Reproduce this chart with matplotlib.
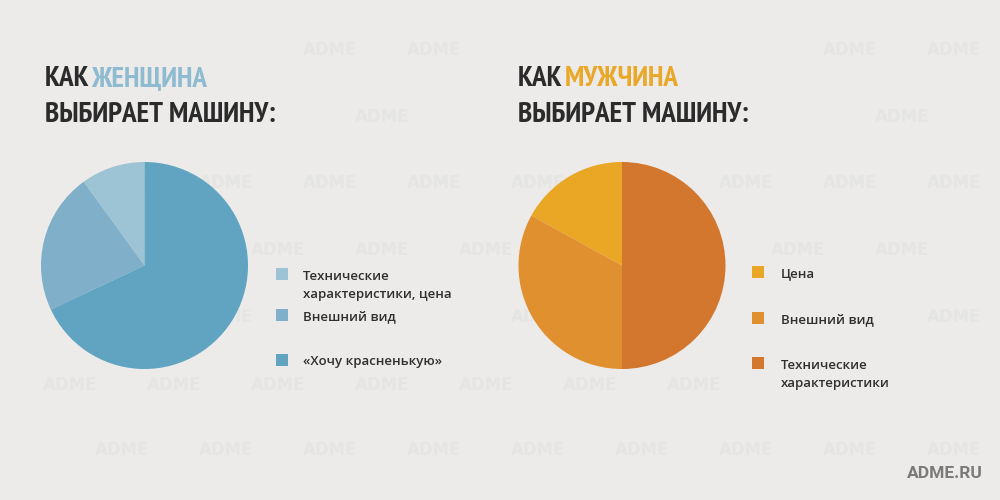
import matplotlib
matplotlib.use("Agg")
import matplotlib.pyplot as plt
from matplotlib.patches import Rectangle

# ---- data ----
women_labels = ["Технические\nхарактеристики, цена", "Внешний вид", "«Хочу красненькую»"]
women_values = [10, 22, 68]
men_labels = ["Цена", "Внешний вид", "Технические\nхарактеристики"]
men_values = [17, 33, 50]

women_colors = ["#9dc4d5", "#80afca", "#60a4c1"]
men_colors = ["#e9a725", "#e0902f", "#d3762e"]

BG = "#ecebe9"
TITLE_FONT = ["PT Sans Narrow", "DejaVu Sans"]
BODY_FONT = ["Open Sans", "DejaVu Sans"]

W, H = 1000, 500
fig = plt.figure(figsize=(W / 100, H / 100), dpi=100, facecolor=BG)


def fx(x):
    return x / W


def fy(y):
    return 1 - y / H


# areas occupied by the real texts (pixels: x0, y0, x1, y1)
text_areas = [(40, 55, 300, 130), (510, 55, 780, 130),
              (270, 262, 460, 375), (745, 260, 900, 395), (890, 460, 995, 488)]


def free(x, y):
    for x0, y0, x1, y1 in text_areas:
        if x + 28 > x0 and x - 28 < x1 and y + 8 > y0 and y - 8 < y1:
            return False
    return True


# faint watermark (behind everything)
for r, yy in enumerate([50, 117, 183, 250, 317, 385, 450]):
    xx = 18 if r % 2 == 0 else 70
    while xx < 1000:
        if 28 < xx < 972 and free(xx, yy):
            fig.text(fx(xx), fy(yy), "ADME", color="#e5e5e3", fontsize=12,
                     fontweight="bold", ha="center", va="center",
                     family=["DejaVu Sans"], zorder=-5)
        xx += 104


def pie_axes(cx, cy, r):
    ax = fig.add_axes([fx(cx - r), fy(cy + r), 2 * r / W, 2 * r / H])
    ax.set_facecolor("none")
    return ax


# left pie
axl = pie_axes(144.5, 265.5, 103.5)
axl.pie(women_values, colors=women_colors, startangle=90, counterclock=True,
        wedgeprops=dict(linewidth=0))
axl.set_xlim(-1, 1)
axl.set_ylim(-1, 1)
axl.axis("off")

# right pie
axr = pie_axes(622, 265.5, 103.5)
axr.pie(men_values, colors=men_colors, startangle=90, counterclock=True,
        wedgeprops=dict(linewidth=0))
axr.set_xlim(-1, 1)
axr.set_ylim(-1, 1)
axr.axis("off")

# titles
title_kw = dict(fontsize=21, fontweight="bold", family=TITLE_FONT, va="baseline", ha="left")
fig.text(fx(45), fy(86), "КАК", color="#2b2b2b", **title_kw)
fig.text(fx(91), fy(86), "ЖЕНЩИНА", color="#8fbbd0", **title_kw)
fig.text(fx(45), fy(122), "ВЫБИРАЕТ МАШИНУ:", color="#2b2b2b", **title_kw)

fig.text(fx(518), fy(86), "КАК", color="#2b2b2b", **title_kw)
fig.text(fx(565), fy(86), "МУЖЧИНА", color="#e9a82a", **title_kw)
fig.text(fx(518), fy(122), "ВЫБИРАЕТ МАШИНУ:", color="#2b2b2b", **title_kw)

# legends
leg_kw = dict(fontsize=9.5, fontweight="semibold", family=BODY_FONT, color="#2f2f2f",
              ha="left", va="center", linespacing=1.55)


def legend(sq_x, text_x, ys, labels, colors):
    for y, lab, col in zip(ys, labels, colors):
        fig.patches.append(Rectangle((fx(sq_x), fy(y + 6)), 12 / W, 12 / H,
                                     transform=fig.transFigure, facecolor=col,
                                     edgecolor="none", figure=fig))
        nlines = lab.count("\n")
        fig.text(fx(text_x), fy(y + 2 + nlines * 9.5), lab, **leg_kw)


legend(276, 303, [274, 315, 360], women_labels, women_colors)
legend(752, 781, [272, 318, 363], men_labels, men_colors)

fig.text(fx(983), fy(473), "ADME.RU", color="#7a7a7a", fontsize=12.5,
         fontweight="bold", family=["Roboto", "DejaVu Sans"], ha="right", va="center")

fig.savefig("out.png", dpi=100, facecolor=BG)
